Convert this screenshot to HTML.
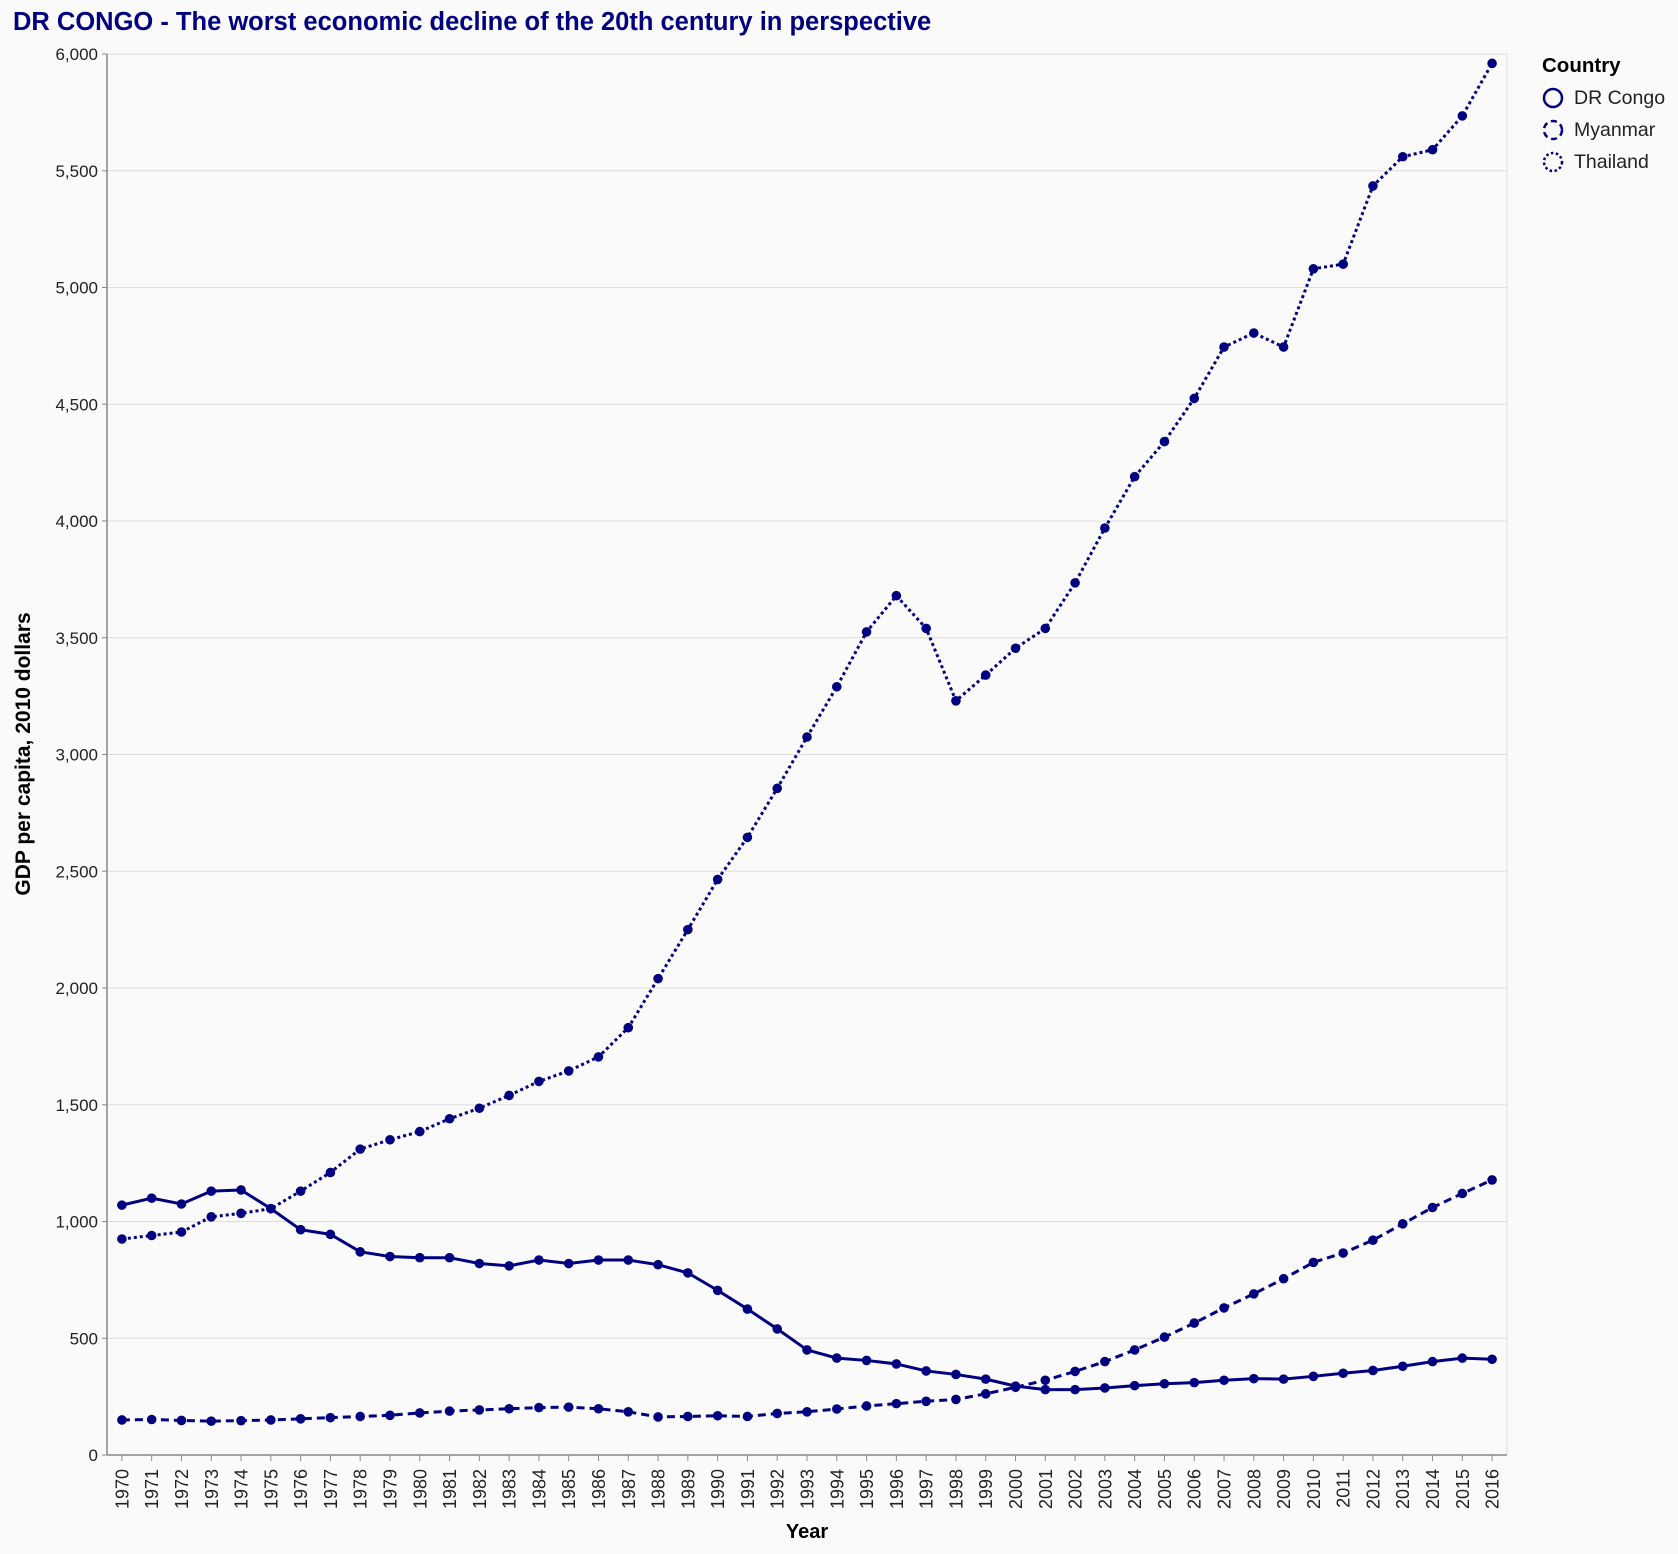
<!DOCTYPE html>
<html><head><meta charset="utf-8"><style>
html,body{margin:0;padding:0;background:#fafafa;}
svg{display:block;font-family:"Liberation Sans",Arial,sans-serif;}
</style></head><body>
<svg id="chart" width="1678" height="1554" viewBox="0 0 1678 1554">
<rect width="1678" height="1554" fill="#fafafa"/>
<text x="13" y="30" font-size="25.5" font-weight="bold" fill="#000080">DR CONGO - The worst economic decline of the 20th century in perspective</text>
<g id="grid"></g><g id="axes"></g><g id="series"></g>
<text transform="translate(30,754) rotate(-90)" text-anchor="middle" font-size="21" font-weight="bold" fill="#000">GDP per capita, 2010 dollars</text>
<text x="807" y="1538" text-anchor="middle" font-size="20" font-weight="bold" fill="#000">Year</text>
<g>
<text x="1542" y="72" font-size="20.5" font-weight="bold" fill="#000">Country</text>
<g><circle cx="1553" cy="98" r="9" fill="none" stroke="#000080" stroke-width="2.5"/><text x="1574" y="104" font-size="19.5" fill="#222">DR Congo</text></g>
<g><circle cx="1553" cy="130" r="9" fill="none" stroke="#000080" stroke-width="2.5" stroke-dasharray="6,4"/><text x="1574" y="136" font-size="19.5" fill="#222">Myanmar</text></g>
<g><circle cx="1553" cy="162" r="9" fill="none" stroke="#000080" stroke-width="2.5" stroke-dasharray="2.5,2.5"/><text x="1574" y="168" font-size="19.5" fill="#222">Thailand</text></g>
</g>
</svg>
<script>
const years=[];for(let y=1970;y<=2016;y++)years.push(y);
const drCongo=[1070,1100,1075,1130,1135,1055,965,945,870,850,845,845,820,810,835,820,835,835,815,780,705,625,540,450,415,405,390,360,345,325,295,280,280,287,297,305,310,320,327,325,337,350,362,380,400,415,410];
const myanmar=[150,152,148,145,147,150,155,160,165,170,180,188,193,198,203,205,198,185,163,165,168,165,178,185,197,210,220,230,238,262,290,320,358,400,450,505,565,630,690,755,825,865,920,990,1060,1120,1178];
const thailand=[925,940,955,1020,1035,1055,1130,1210,1310,1350,1385,1440,1485,1540,1600,1645,1705,1830,2040,2250,2465,2645,2855,3075,3290,3525,3680,3540,3230,3340,3455,3540,3735,3970,4190,4340,4525,4745,4805,4745,5080,5100,5435,5560,5590,5735,5960];
const yTicks=[0,500,1000,1500,2000,2500,3000,3500,4000,4500,5000,5500,6000];
const L=107,R=1507,T=54,B=1455,YMAX=6000;
const NS='http://www.w3.org/2000/svg';
const bw=(R-L)/years.length;
function xs(i){return L+bw*(i+0.5);}
function ys(v){return B-(v/YMAX)*(B-T);}
function mk(tag,attrs,parent){const e=document.createElementNS(NS,tag);for(const k in attrs)e.setAttribute(k,attrs[k]);parent.appendChild(e);return e;}
const grid=document.getElementById('grid'),axes=document.getElementById('axes'),series=document.getElementById('series');
mk('rect',{x:L,y:T,width:R-L,height:B-T,fill:'none',stroke:'#ddd'},grid);
yTicks.forEach(t=>{
 const g=mk('line',{x1:L,x2:R,y1:ys(t),y2:ys(t),stroke:'#ddd','stroke-width':1},grid);
 
 
 mk('line',{x1:L-5,x2:L,y1:ys(t),y2:ys(t),stroke:'#888'},axes);
 const tx=mk('text',{x:L-9,y:ys(t)+6,'text-anchor':'end','font-size':17,fill:'#222'},axes);
 tx.textContent=t.toLocaleString('en-US');
 
 
});
mk('line',{x1:L,x2:L,y1:T,y2:B,stroke:'#888','stroke-width':1.5},axes);
mk('line',{x1:L,x2:R,y1:B,y2:B,stroke:'#888','stroke-width':1.5},axes);
years.forEach((yr,i)=>{
 mk('line',{x1:xs(i),x2:xs(i),y1:B,y2:B+6,stroke:'#888'},axes);
 const tx=mk('text',{transform:`translate(${xs(i)+6.5},${B+14}) rotate(-90)`,'text-anchor':'end','font-size':18,fill:'#222'},axes);
 tx.textContent=yr;
 
 
});
function draw(vals,dash,name){
 const d=vals.map((v,i)=>(i?'L':'M')+xs(i)+','+ys(v)).join(' ');
 const p=mk('path',{d:d,fill:'none',stroke:'#000080','stroke-width':3,'stroke-dasharray':dash},series);
 
 
 vals.forEach((v,i)=>{
  const c=mk('circle',{cx:xs(i),cy:ys(v),r:4.8,fill:'#000080'},series);
  
  
 });
}
draw(myanmar,'8,5','myanmar');
draw(thailand,'3,3','thailand');
draw(drCongo,'none','dr-congo');
</script>
</body></html>
